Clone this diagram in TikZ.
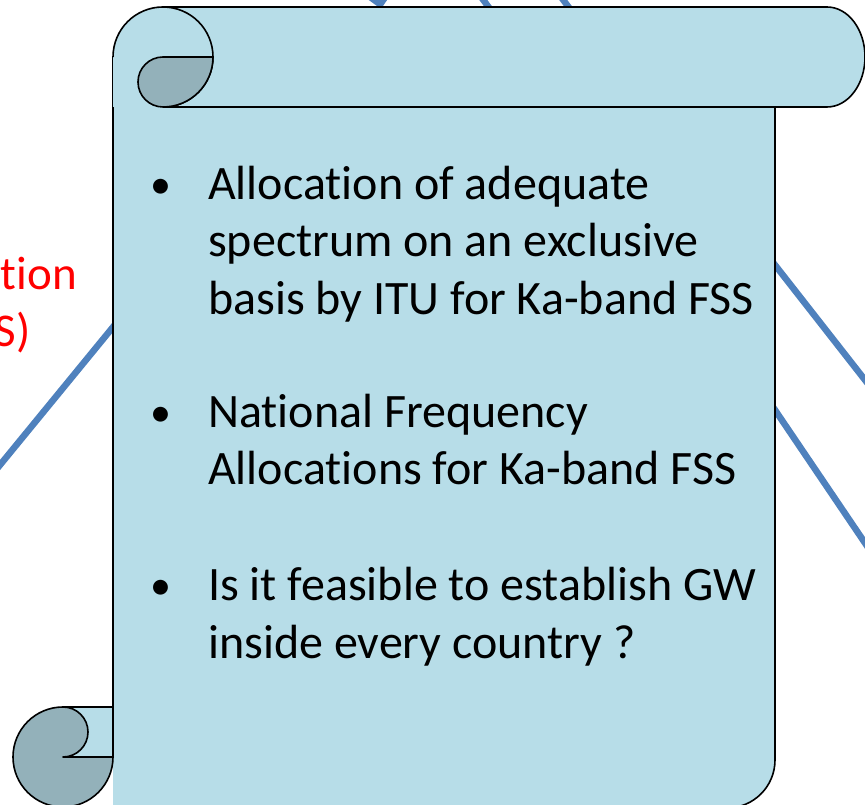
\documentclass[tikz,border=0pt]{standalone}
\usepackage{fontspec}
\setmainfont{Carlito}[Ligatures=NoCommon]
\usetikzlibrary{arrows.meta}
\definecolor{scrolllight}{HTML}{B7DDE8}
\definecolor{scrolldark}{HTML}{93B1BA}
\definecolor{linkblue}{HTML}{4F81BD}
\tikzset{
  link/.style={draw=linkblue, line width=6.5pt},
  outline/.style={draw=black, line width=1.6pt, line join=round},
  bodytext/.style={inner sep=0pt, anchor=base west, font=\fontsize{48}{56}\selectfont},
  bullettext/.style={inner sep=0pt, anchor=base west, font=\fontsize{42}{56}\selectfont},
  redtext/.style={inner sep=0pt, anchor=base east, text=red, font=\fontsize{47}{54}\selectfont}
}
\begin{document}
\begin{tikzpicture}[x=1pt,y=1pt]
\useasboundingbox (0,0) rectangle (865,805);
% connector ends (outside and behind the scroll)
\coordinate (L1a) at (-10,327.8);
\coordinate (L1b) at (120,486.5);
\coordinate (R1a) at (770,546.4);
\coordinate (R1b) at (880,405.8);
\coordinate (R2a) at (770,402.4);
\coordinate (R2b) at (880,239.8);
\coordinate (T1a) at (370,860);
\coordinate (T1b) at (381,796);
\coordinate (T2a) at (490,796);
\coordinate (T2b) at (450,850);
\coordinate (T3a) at (570,796);
\coordinate (T3b) at (540,836);
% connectors
\draw[link] (L1a) -- (L1b);
\draw[link] (R1a) -- (R1b);
\draw[link] (R2a) -- (R2b);
\draw[link, -{Triangle[width=30pt,length=16pt]}] (T1a) -- (T1b);
\draw[link] (T2a) -- (T2b);
\draw[link] (T3a) -- (T3b);
% red labels
\node[redtext] (redA) at (77,515) {tion};
\node[redtext] (redB) at (31,458) {S)};
% scroll body
\fill[scrolllight] (113,748) -- (113,-3) -- (727,-3) arc[start angle=-90,end angle=0,radius=48] -- (775,698) -- cycle;
\draw[outline] (113,748) -- (113,48);
\draw[outline] (775,698) -- (775,45) arc[start angle=0,end angle=-90,radius=48] -- (113,-3);
% bottom curl
\fill[scrolllight] (63,48) rectangle (113,98);
\filldraw[fill=scrolldark, outline] (63,48) -- (113,48) arc[start angle=0,end angle=-270,radius=50] arc[start angle=90,end angle=-90,radius=25] -- cycle;
\draw[outline] (63,98) -- (113,98);
\draw[outline] (113,98) -- (113,48);
% top roll
\fill[scrolllight] (113,748) arc[start angle=180,end angle=90,radius=50] -- (827,798) arc[start angle=90,end angle=-90,x radius=38,y radius=50] -- (113,698) -- cycle;
\draw[outline] (113,748) arc[start angle=180,end angle=90,radius=50] -- (827,798) arc[start angle=90,end angle=-90,x radius=38,y radius=50] -- (163,698);
\draw[outline] (163,798) arc[start angle=90,end angle=-90,radius=50];
\filldraw[fill=scrolldark, outline] (163,748) -- (213,748) arc[start angle=0,end angle=-90,radius=50] arc[start angle=270,end angle=90,radius=25] -- cycle;
% bullets and text
\node[bullettext] (b1) at (150,606) {•};
\node[bodytext] (t1a) at (208,605) {Allocation of adequate};
\node[bodytext] (t1b) at (208,548) {spectrum on an exclusive};
\node[bodytext] (t1c) at (208,490) {basis by ITU for Ka-band FSS};
\node[bullettext] (b2) at (150,378) {•};
\node[bodytext] (t2a) at (208,377) {National Frequency};
\node[bodytext] (t2b) at (208,320) {Allocations for Ka-band FSS};
\node[bullettext] (b3) at (150,205) {•};
\node[bodytext] (t3a) at (208,204) {Is it feasible to establish GW};
\node[bodytext] (t3b) at (208,146) {inside every country ?};
\end{tikzpicture}
\end{document}
